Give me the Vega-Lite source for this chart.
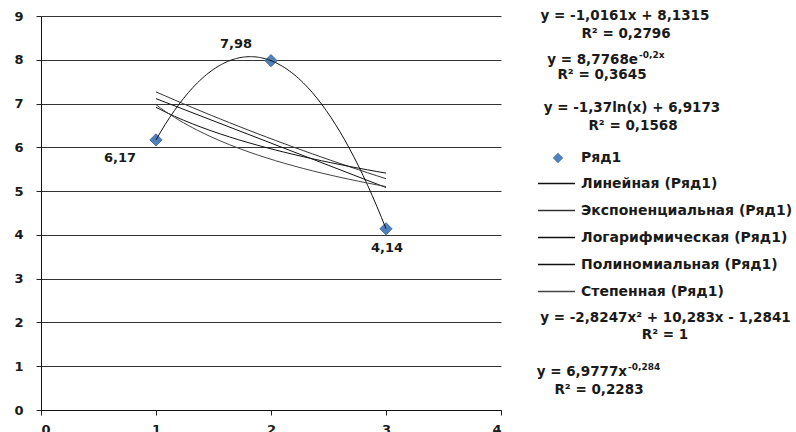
{
  "$schema": "https://vega.github.io/schema/vega-lite/v6.json",
  "width": 460,
  "height": 394,
  "autosize": "none",
  "padding": {"left": 41, "top": 16, "right": 295, "bottom": 22},
  "background": "white",
  "config": {
    "locale": {"number": {"decimal": ",", "thousands": " ", "grouping": [3], "currency": ["", ""]}},
    "view": {"stroke": null},
    "font": "DejaVu Sans",
    "axis": {"labelFont": "DejaVu Sans", "labelFontWeight": "bold", "labelFontSize": 13, "labelColor": "#1a1a1a", "title": null, "tickColor": "#222", "domainColor": "#111", "tickSize": 5, "gridColor": "#333", "gridWidth": 1}
  },
  "datasets": {
    "pts": [
      {"x": 1, "y": 6.17, "series": "Ряд1"},
      {"x": 2, "y": 7.98, "series": "Ряд1"},
      {"x": 3, "y": 4.14, "series": "Ряд1"}
    ],
    "eqC": [
      {"x": 5.078, "y": 8.99, "txt": "y = -1,0161x + 8,1315"},
      {"x": 5.087, "y": 8.588, "txt": "R² = 0,2796"},
      {"x": 4.878, "y": 7.652, "txt": "R² = 0,3645"},
      {"x": 5.139, "y": 6.898, "txt": "y = -1,37ln(x) + 6,9173"},
      {"x": 5.148, "y": 6.487, "txt": "R² = 0,1568"},
      {"x": 5.43, "y": 2.101, "txt": "y = -2,8247x² + 10,283x - 1,2841"},
      {"x": 5.426, "y": 1.713, "txt": "R² = 1"},
      {"x": 4.852, "y": 0.457, "txt": "R² = 0,2283"}
    ],
    "eqR": [
      {"x": 5.191, "y": 7.994, "txt": "y = 8,7768e", "sup": "-0,2x"},
      {"x": 5.096, "y": 0.868, "txt": "y = 6,9777x", "sup": "-0,284"}
    ]
  },
  "data": {"name": "pts"},
  "encoding": {
    "x": {"field": "x", "type": "quantitative", "scale": {"domain": [0, 4], "nice": false, "zero": false},
      "axis": {"values": [0, 1, 2, 3, 4], "grid": false, "labelPadding": 8, "format": "d"}},
    "y": {"field": "y", "type": "quantitative", "scale": {"domain": [0, 9], "nice": false, "zero": false},
      "axis": {"values": [0, 1, 2, 3, 4, 5, 6, 7, 8, 9], "grid": true, "labelPadding": 13, "format": "d"}}
  },
  "layer": [
    {
      "mark": {"type": "point", "shape": "diamond", "filled": true, "size": 150, "opacity": 1, "stroke": "#385D8A", "strokeWidth": 0.8},
      "encoding": {
        "fill": {"field": "series", "type": "nominal",
          "scale": {"domain": ["Ряд1"], "range": ["#4F81BD"]},
          "legend": {
            "title": null, "orient": "none", "legendX": 510, "legendY": 135,
            "labelFont": "DejaVu Sans", "labelFontWeight": "bold", "labelFontSize": 14, "labelColor": "#1a1a1a",
            "labelOffset": 16, "symbolSize": 100, "padding": 0, "symbolStrokeWidth": 0.5, "symbolStrokeColor": "#4F81BD"
          }}
      }
    },
    {
      "transform": [{"regression": "y", "on": "x", "method": "linear", "extent": [1, 3]}],
      "mark": {"type": "line", "strokeWidth": 1},
      "encoding": {"stroke": {"datum": "Линейная (Ряд1)", "type": "nominal",
        "scale": {"domain": ["Линейная (Ряд1)", "Экспоненциальная (Ряд1)", "Логарифмическая (Ряд1)", "Полиномиальная (Ряд1)", "Степенная (Ряд1)"],
                  "range": ["#111111", "#333333", "#111111", "#111111", "#444444"]},
        "legend": {
          "title": null, "orient": "none", "legendX": 496, "legendY": 148,
          "labelFont": "DejaVu Sans", "labelFontWeight": "bold", "labelFontSize": 14, "labelColor": "#1a1a1a",
          "labelOffset": 5, "rowPadding": -22, "symbolType": "stroke", "symbolSize": 1369, "symbolStrokeWidth": 1.3,
          "padding": 0, "labelLimit": 400
        }}}
    },
    {
      "transform": [{"regression": "y", "on": "x", "method": "exp", "extent": [1, 3]}],
      "mark": {"type": "line", "strokeWidth": 1},
      "encoding": {"stroke": {"datum": "Экспоненциальная (Ряд1)", "type": "nominal"}}
    },
    {
      "transform": [{"regression": "y", "on": "x", "method": "log", "extent": [1, 3]}],
      "mark": {"type": "line", "strokeWidth": 1},
      "encoding": {"stroke": {"datum": "Логарифмическая (Ряд1)", "type": "nominal"}}
    },
    {
      "transform": [{"regression": "y", "on": "x", "method": "poly", "order": 2, "extent": [1, 3]}],
      "mark": {"type": "line", "strokeWidth": 1, "interpolate": "monotone"},
      "encoding": {"stroke": {"datum": "Полиномиальная (Ряд1)", "type": "nominal"}}
    },
    {
      "transform": [{"regression": "y", "on": "x", "method": "pow", "extent": [1, 3]}],
      "mark": {"type": "line", "strokeWidth": 1},
      "encoding": {"stroke": {"datum": "Степенная (Ряд1)", "type": "nominal"}}
    },
    {
      "transform": [{"filter": "datum.x === 1"}],
      "mark": {"type": "text", "dx": -36, "dy": 18, "font": "DejaVu Sans", "fontWeight": "bold", "fontSize": 13, "color": "#1a1a1a"},
      "encoding": {"text": {"field": "y", "type": "quantitative", "format": ".2f"}}
    },
    {
      "transform": [{"filter": "datum.x === 2"}],
      "mark": {"type": "text", "dx": -35, "dy": -17, "font": "DejaVu Sans", "fontWeight": "bold", "fontSize": 13, "color": "#1a1a1a"},
      "encoding": {"text": {"field": "y", "type": "quantitative", "format": ".2f"}}
    },
    {
      "transform": [{"filter": "datum.x === 3"}],
      "mark": {"type": "text", "dx": 1, "dy": 19, "font": "DejaVu Sans", "fontWeight": "bold", "fontSize": 13, "color": "#1a1a1a"},
      "encoding": {"text": {"field": "y", "type": "quantitative", "format": ".2f"}}
    },
    {
      "data": {"name": "eqC"},
      "mark": {"type": "text", "align": "center", "baseline": "middle", "font": "DejaVu Sans", "fontWeight": "bold", "fontSize": 13.5, "color": "#1a1a1a"},
      "encoding": {"text": {"field": "txt", "type": "nominal"}}
    },
    {
      "data": {"name": "eqR"},
      "mark": {"type": "text", "align": "right", "baseline": "middle", "font": "DejaVu Sans", "fontWeight": "bold", "fontSize": 13.5, "color": "#1a1a1a"},
      "encoding": {"text": {"field": "txt", "type": "nominal"}}
    },
    {
      "data": {"name": "eqR"},
      "mark": {"type": "text", "align": "left", "baseline": "middle", "dy": -5, "dx": 1, "font": "DejaVu Sans", "fontWeight": "bold", "fontSize": 9, "color": "#1a1a1a"},
      "encoding": {"text": {"field": "sup", "type": "nominal"}}
    }
  ]
}
